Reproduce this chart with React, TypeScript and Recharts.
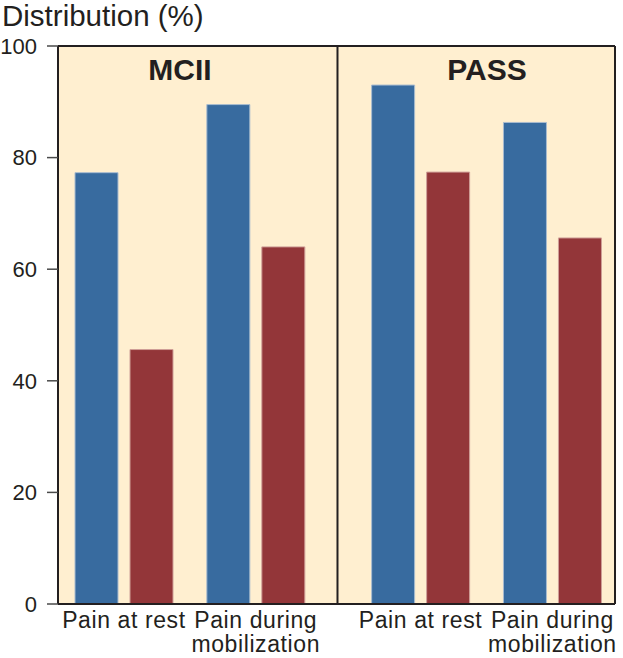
import { BarChart, Bar, XAxis, YAxis, CartesianGrid, ReferenceLine, Customized } from 'recharts';

// x-axis categories (two per panel)
const categories = ['Pain at rest', 'Pain during\nmobilization', 'Pain at rest', 'Pain during\nmobilization'];
const panels = ['MCII', 'PASS'];
// bar values, in %
const blueValues = [77.3, 89.5, 93.0, 86.3];
const redValues = [45.6, 64.0, 77.4, 65.6];
const yTicks = [0, 20, 40, 60, 80, 100];

// where each pair sits on the x scale (slot units); the divider leaves a wider gap
const SLOT_X = [0.5, 1.5, 2.75, 3.75];
const X_MAX = 4.225;
const DIVIDER_X = 2.12;

const INK = '#231f20';
const FONT = '"Liberation Sans", Arial, Helvetica, sans-serif';

const data = categories.map((name, i) => ({
  x: SLOT_X[i],
  name,
  blue: blueValues[i],
  red: redValues[i],
}));

const XTick = ({ x, y, payload }: any) => {
  const idx = SLOT_X.indexOf(payload.value);
  const lines = (categories[idx] ?? '').split('\n');
  return (
    <text x={x} y={y} textAnchor="middle" fill={INK} fontSize={23} letterSpacing={0.6} fontFamily={FONT}>
      {lines.map((l, i) => (
        <tspan key={i} x={x} dy={i === 0 ? 24 : 24}>
          {l}
        </tspan>
      ))}
    </text>
  );
};

const Headings = () => (
  <g fontFamily={FONT} fill={INK}>
    <text x={2} y={26} fontSize={29.5}>Distribution (%)</text>
    <text x={180} y={80} fontSize={30} fontWeight="bold" textAnchor="middle">{panels[0]}</text>
    <text x={487} y={80} fontSize={30} fontWeight="bold" textAnchor="middle">{panels[1]}</text>
  </g>
);

export default function App() {
  return (
    <div style={{ position: 'absolute', left: 0, top: 0, background: '#fff' }}>
      <BarChart
        width={623}
        height={658}
        data={data}
        margin={{ top: 46, right: 8, left: 0, bottom: 0 }}
        barSize={43}
        barGap={12}
      >
        <CartesianGrid horizontal={false} vertical={false} fill="#ffefd0" fillOpacity={1} />
        <XAxis
          dataKey="x"
          type="number"
          domain={[0, X_MAX]}
          ticks={SLOT_X}
          interval={0}
          height={54}
          tickSize={0}
          tickMargin={0}
          tickLine={false}
          axisLine={{ stroke: INK, strokeWidth: 2 }}
          tick={<XTick />}
        />
        <YAxis
          domain={[0, 100]}
          ticks={yTicks}
          width={58}
          tickSize={11}
          tickMargin={10}
          axisLine={{ stroke: INK, strokeWidth: 2 }}
          tickLine={{ stroke: '#4a4a4a', strokeWidth: 1.5 }}
          tick={{ fontSize: 22, fill: INK, fontFamily: FONT }}
        />
        <Bar dataKey="blue" fill="#386b9f" stroke="#a9bccf" strokeWidth={1} isAnimationActive={false} />
        <Bar dataKey="red" fill="#933639" stroke="#cf9f98" strokeWidth={1} isAnimationActive={false} />
        <ReferenceLine y={100} stroke={INK} strokeWidth={2} />
        <ReferenceLine x={X_MAX} stroke={INK} strokeWidth={2} />
        <ReferenceLine x={DIVIDER_X} stroke={INK} strokeWidth={2} />
        <Customized component={Headings} />
      </BarChart>
    </div>
  );
}
